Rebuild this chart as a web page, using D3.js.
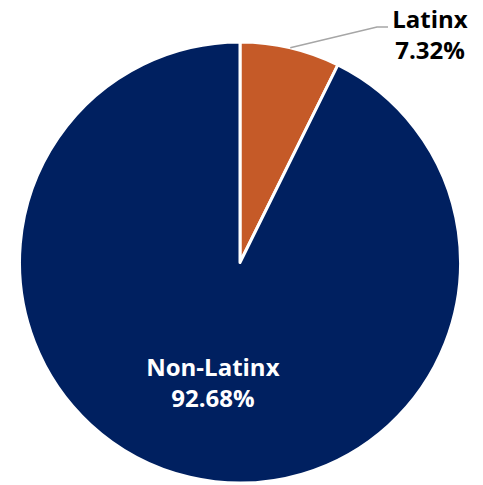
<!DOCTYPE html>
<html>
<head>
<meta charset="utf-8">
<script src="https://cdn.jsdelivr.net/npm/d3@7"></script>
<style>
  body { margin: 0; background: #fff; }
  text { font-family: "Open Sans", sans-serif; font-weight: bold; }
</style>
</head>
<body>
<svg id="chart"></svg>
<script>
// data
const categories = ["Latinx", "Non-Latinx"];
const shares = [7.32, 92.68];
const colors = ["#C55A28", "#002060"];

const width = 483, height = 485;
const cx = 240, cy = 262.5, radius = 220.5;

const svg = d3.select("#chart")
    .attr("width", width)
    .attr("height", height);

const g = svg.append("g")
    .attr("transform", `translate(${cx},${cy})`);

const data = categories.map((c, i) => ({ name: c, value: shares[i], color: colors[i] }));

const pie = d3.pie().value(d => d.value).sort(null);
const arcs = pie(data);

const arc = d3.arc().innerRadius(0).outerRadius(radius);

g.selectAll("path")
  .data(arcs)
  .enter()
  .append("path")
    .attr("d", arc)
    .attr("fill", d => d.data.color)
    .attr("stroke", "#fff")
    .attr("stroke-width", 3)
    .attr("stroke-linejoin", "round");

// inside label for the big slice
const inner = d3.arc().innerRadius(radius * 0.56).outerRadius(radius * 0.56);
const big = arcs[1];
const [bx, by] = inner.centroid(big);
const bigLabel = g.append("text")
    .attr("text-anchor", "middle")
    .attr("fill", "#fff")
    .style("font-size", "24px");
bigLabel.append("tspan").attr("x", bx + 1).attr("y", by - 7).text(big.data.name);
bigLabel.append("tspan").attr("x", bx + 1).attr("y", by + 24).text(big.data.value.toFixed(2) + "%");

// outside label with leader line for the small slice
const small = arcs[0];
const mid = (small.startAngle + small.endAngle) / 2;
const p0 = [Math.sin(mid) * radius, -Math.cos(mid) * radius];
const elbow = [377 - cx, 27 - cy];
const end = [388 - cx, 27 - cy];
g.append("polyline")
    .attr("points", [p0, elbow, end].map(p => p.join(",")).join(" "))
    .attr("fill", "none")
    .attr("stroke", "#A6A6A6")
    .attr("stroke-width", 1.5);

const smallLabel = g.append("text")
    .attr("text-anchor", "middle")
    .attr("fill", "#000")
    .style("font-size", "24px");
smallLabel.append("tspan").attr("x", 430 - cx).attr("y", 28 - cy).text(small.data.name);
smallLabel.append("tspan").attr("x", 430 - cx).attr("y", 59 - cy).text(small.data.value.toFixed(2) + "%");
</script>
</body>
</html>
